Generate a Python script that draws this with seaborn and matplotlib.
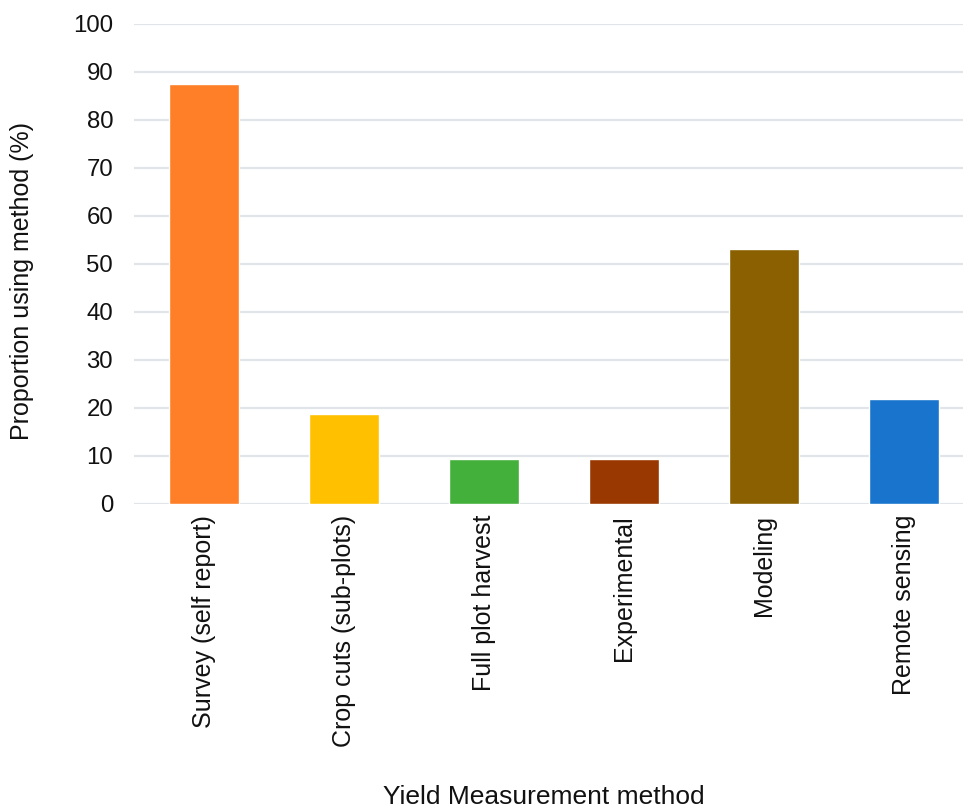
import matplotlib
matplotlib.use("Agg")
import matplotlib.pyplot as plt
import seaborn as sns
import pandas as pd

methods = ["Survey (self report)", "Crop cuts (sub-plots)", "Full plot harvest",
           "Experimental", "Modeling", "Remote sensing"]
proportions = [87.5, 18.75, 9.375, 9.375, 53.125, 21.875]
bar_colors = ["#FE7F27", "#FFC000", "#43B03B", "#993800", "#8B6000", "#1874CD"]
y_ticks = [0, 10, 20, 30, 40, 50, 60, 70, 80, 90, 100]

sns.set_theme(style="white")
plt.rcParams["font.family"] = ["Liberation Sans", "DejaVu Sans"]

df = pd.DataFrame({"method": methods, "proportion": proportions})

fig = plt.figure(figsize=(9.63, 8.09), dpi=100)
ax = fig.add_axes([134 / 963, 305 / 809, 840 / 963, 480 / 809])

sns.barplot(data=df, x="method", y="proportion", hue="method",
            palette=bar_colors, width=0.5, legend=False, ax=ax,
            saturation=1, zorder=3)

ax.set_ylim(0, 100)
ax.set_xlim(-0.5, len(methods) - 0.5)
ax.set_yticks(y_ticks)
ax.yaxis.grid(True, color="#E1E4E8", linewidth=1.6, zorder=0)
ax.set_axisbelow(True)
for s in ax.spines.values():
    s.set_visible(False)
ax.tick_params(axis="both", length=0, colors="#111111")
ax.tick_params(axis="y", pad=15, labelsize=17.3)
ax.tick_params(axis="x", pad=8, labelsize=18)
ax.set_xticks(range(len(methods)))
ax.set_xticklabels(methods, rotation=90)

ax.set_ylabel("")
ax.set_xlabel("")
fig.text(22 / 963, 1 - 281 / 809, "Proportion using method (%)", rotation=90,
         ha="center", va="center", fontsize=18, color="#111111")
fig.text(544 / 963, 1 - 797 / 809, "Yield Measurement method",
         ha="center", va="center", fontsize=19, color="#111111")

fig.savefig("out.png", dpi=100)
